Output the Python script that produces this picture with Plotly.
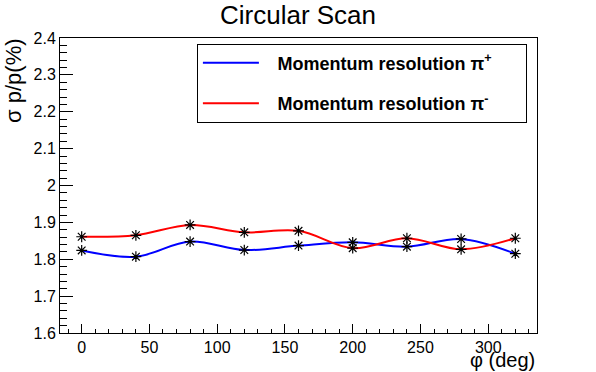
import plotly.graph_objects as go

phi_deg = [0, 40, 80, 120, 160, 200, 240, 280, 320]
res_pi_plus = [1.824, 1.807, 1.848, 1.825, 1.837, 1.846, 1.834, 1.855, 1.815]
res_pi_minus = [1.861, 1.865, 1.893, 1.873, 1.877, 1.830, 1.857, 1.827, 1.857]
series_names = ["\u2002\u2005Momentum resolution π<sup>+</sup>\u2003\u2002\u200a",
                "\u2002\u2005Momentum resolution π<sup>-</sup>\u2003\u2002\u200a"]
series_colors = ["#0000ff", "#ff0000"]

FONT = "Liberation Sans, Arial, sans-serif"

fig = go.Figure()
for i, (vals, name, col) in enumerate(zip([res_pi_plus, res_pi_minus], series_names, series_colors)):
    fig.add_trace(go.Scatter(
        x=phi_deg, y=vals, mode="lines", name=name,
        line=dict(color=col, width=2, shape="spline", smoothing=1.0),
        legendgroup=f"g{i}",
    ))
for vals in [res_pi_plus, res_pi_minus]:
    fig.add_trace(go.Scatter(
        x=phi_deg, y=vals, mode="markers", showlegend=False,
        marker=dict(symbol="asterisk-open", size=9, color="black",
                    line=dict(color="black", width=1.2)),
    ))

axis_common = dict(
    showline=True, linecolor="black", linewidth=1, mirror=True,
    ticks="inside", tickcolor="black", tickwidth=1,
    showgrid=False, zeroline=False,
    tickfont=dict(family=FONT, size=16, color="black"),
)

fig.update_layout(
    width=596, height=372,
    margin=dict(l=60, r=59, t=38, b=39),
    paper_bgcolor="white", plot_bgcolor="white",
    title=dict(text="Circular Scan", x=0.5, xanchor="center", y=0.985, yanchor="top",
               font=dict(family=FONT, size=26, color="black")),
    xaxis=dict(range=[-16, 336], dtick=50, tick0=0, ticklen=9,
               minor=dict(dtick=10, ticklen=4, ticks="inside", tickcolor="black"),
               **axis_common),
    yaxis=dict(range=[1.6, 2.4], dtick=0.1, tick0=1.6, ticklen=13,
               minor=dict(dtick=0.02, ticklen=7, ticks="inside", tickcolor="black"),
               tickformat="~g",
               **axis_common),
    legend=dict(x=0.287, y=0.981, xanchor="left", yanchor="top",
                bordercolor="black", borderwidth=1, bgcolor="white",
                font=dict(family=FONT, size=18, color="black", weight="bold"),
                tracegroupgap=14, itemwidth=56),
    showlegend=True,
    annotations=[
        dict(text="φ (deg)", xref="paper", yref="paper", x=1.0, y=-0.046,
             xanchor="right", yanchor="top", showarrow=False,
             font=dict(family=FONT, size=20, color="black")),
        dict(text="σ p/p(%)", xref="paper", yref="paper", x=-0.099, y=1.008,
             xanchor="center", yanchor="top", textangle=-90, showarrow=False,
             font=dict(family=FONT, size=22, color="black")),
    ],
)

fig.write_html("out.html", config={"displayModeBar": False},
               post_script="document.body.style.margin='0';document.body.style.padding='0';")
